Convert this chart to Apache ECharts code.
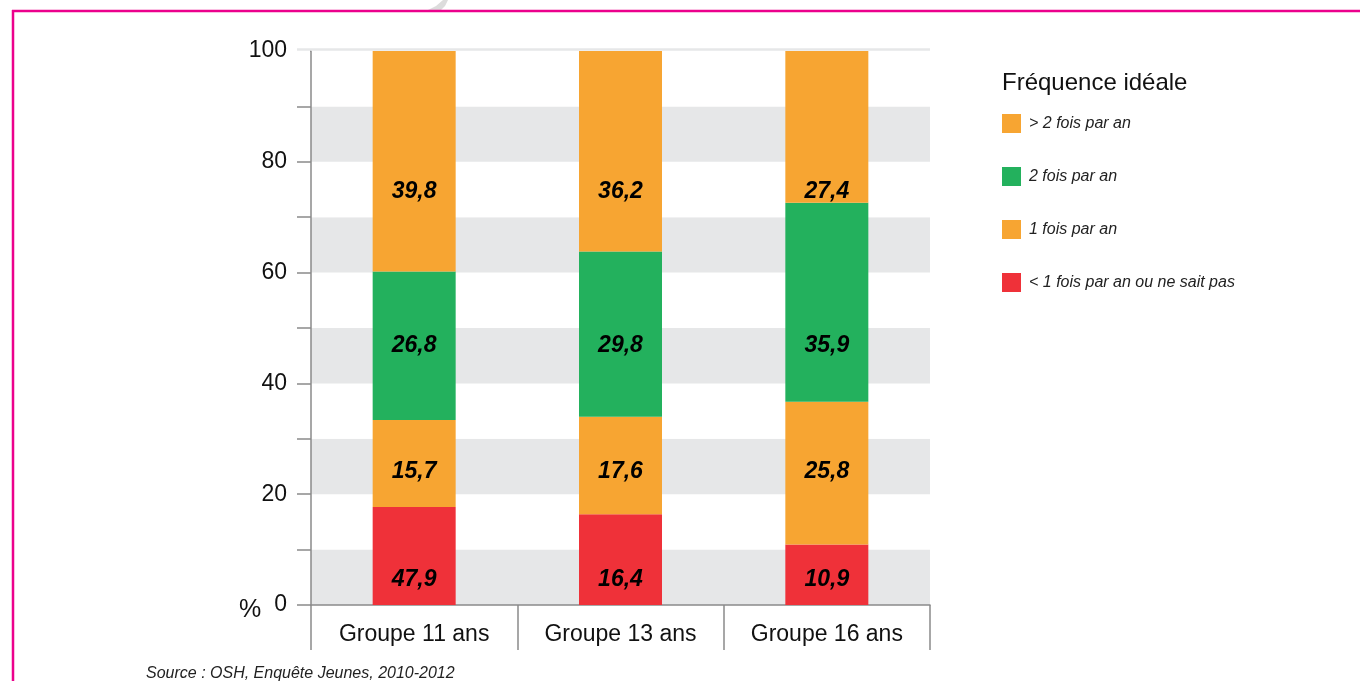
<!DOCTYPE html>
<html>
<head>
<meta charset="utf-8">
<script src="https://cdn.jsdelivr.net/npm/echarts@6/dist/echarts.min.js"></script>
<style>
html,body{margin:0;padding:0;background:#fff;}
#chart{width:1360px;height:681px;}
</style>
</head>
<body>
<div id="chart"></div>
<script>
// ---- data ----
const categories = ['Groupe 11 ans', 'Groupe 13 ans', 'Groupe 16 ans'];
const seriesNames = ['< 1 fois par an ou ne sait pas', '1 fois par an', '2 fois par an', '> 2 fois par an'];
const lessThanOnce = [17.7, 16.4, 10.9];
const oncePerYear = [15.7, 17.6, 25.8];
const twicePerYear = [26.8, 29.8, 35.9];
const moreThanTwice = [39.8, 36.2, 27.4];
// labels as printed in the source figure
const lessThanOnceLabels = ['47,9', '16,4', '10,9'];
const oncePerYearLabels = ['15,7', '17,6', '25,8'];
const twicePerYearLabels = ['26,8', '29,8', '35,9'];
const moreThanTwiceLabels = ['39,8', '36,2', '27,4'];
const yTicks = [0, 20, 40, 60, 80, 100];
const legendTitle = 'Fréquence idéale';
const sourceText = 'Source : OSH, Enquête Jeunes, 2010-2012';

const FONT = '"Liberation Sans", Arial, sans-serif';
const ORANGE = '#f7a532', GREEN = '#23b15d', RED = '#ef3139';
// in the source, labels sit on fixed rows (axis units)
const ROW = { red: 4.5, once: 24.0, twice: 46.9, more: 74.7 };

function mkSeries(name, data, color) {
  return {
    name: name, type: 'bar', stack: 'total', data: data,
    barWidth: 83,
    itemStyle: { color: color },
    emphasis: { disabled: true }
  };
}
function mkLabels(labels, row) {
  return {
    type: 'scatter', symbolSize: 1, silent: true, z: 5,
    itemStyle: { opacity: 0 },
    data: categories.map((c, i) => [c, row]),
    label: {
      show: true, position: 'inside', opacity: 1,
      formatter: p => labels[p.dataIndex],
      fontFamily: FONT, fontSize: 23, fontWeight: 'bold', fontStyle: 'italic', color: '#000'
    },
    emphasis: { disabled: true }
  };
}

const chart = echarts.init(document.getElementById('chart'), null, { renderer: 'canvas' });
chart.setOption({
  animation: false,
  backgroundColor: '#fff',
  grid: { left: 311, right: 430, top: 51, bottom: 76, containLabel: false },
  legend: {
    left: 1002, top: 114, orient: 'vertical', padding: 0,
    itemWidth: 19, itemHeight: 19, itemGap: 34,
    icon: 'rect',
    data: ['> 2 fois par an', '2 fois par an', '1 fois par an', '< 1 fois par an ou ne sait pas'],
    textStyle: { fontFamily: FONT, fontSize: 16, fontStyle: 'italic', color: '#222', padding: [0, 0, 0, 3] },
    selectedMode: false
  },
  xAxis: {
    type: 'category', data: categories,
    axisLine: { show: true, lineStyle: { color: '#8a8a8a', width: 1.5 } },
    axisTick: { show: true, interval: 0, length: 45, lineStyle: { color: '#8a8a8a', width: 1.5 } },
    axisLabel: { interval: 0, fontFamily: FONT, fontSize: 23, color: '#111', margin: 18 },
    splitLine: { show: false }
  },
  yAxis: {
    type: 'value', min: 0, max: 100, interval: 10,
    axisLine: { show: true, lineStyle: { color: '#8a8a8a', width: 1.5 } },
    axisTick: { show: true, length: 14, lineStyle: { color: '#8a8a8a', width: 1.5 } },
    axisLabel: {
      fontFamily: FONT, fontSize: 23, color: '#111', margin: 24,
      formatter: v => yTicks.indexOf(v) >= 0 ? String(v) : ''
    },
    splitLine: { show: false },
    splitArea: { show: true, areaStyle: { color: ['#e6e7e8', '#ffffff'] } }
  },
  series: [
    mkSeries(seriesNames[0], lessThanOnce, RED),
    mkSeries(seriesNames[1], oncePerYear, ORANGE),
    mkSeries(seriesNames[2], twicePerYear, GREEN),
    mkSeries(seriesNames[3], moreThanTwice, ORANGE),
    mkLabels(lessThanOnceLabels, ROW.red),
    mkLabels(oncePerYearLabels, ROW.once),
    mkLabels(twicePerYearLabels, ROW.twice),
    mkLabels(moreThanTwiceLabels, ROW.more)
  ],
  graphic: [
    { type: 'line', shape: { x1: 12, y1: 11, x2: 1360, y2: 11 }, style: { stroke: '#ec008c', lineWidth: 2.5 }, z: 100 },
    { type: 'line', shape: { x1: 13, y1: 10, x2: 13, y2: 681 }, style: { stroke: '#ec008c', lineWidth: 2.5 }, z: 100 },
    { type: 'polygon', shape: { points: [[428, 10], [436, 6], [443, 0], [448, 0], [445, 6], [441, 10]] },
      style: { fill: '#dcdcdc' }, z: 99 },
    { type: 'rect', shape: { x: 296, y: 48, width: 14, height: 4 }, style: { fill: '#fff' }, z: 49 },
    { type: 'line', shape: { x1: 297, y1: 49.5, x2: 930, y2: 49.5 }, style: { stroke: '#e6e7e8', lineWidth: 2.5 }, z: 50 },
    { type: 'text', left: 1002, top: 71, style: { text: legendTitle, font: '24px ' + FONT, fill: '#111' } },
    { type: 'text', left: 239, top: 598, style: { text: '%', font: '25px ' + FONT, fill: '#111' } },
    { type: 'text', left: 146, top: 666, style: { text: sourceText, font: 'italic 16px ' + FONT, fill: '#222' } }
  ]
});
</script>
</body>
</html>
